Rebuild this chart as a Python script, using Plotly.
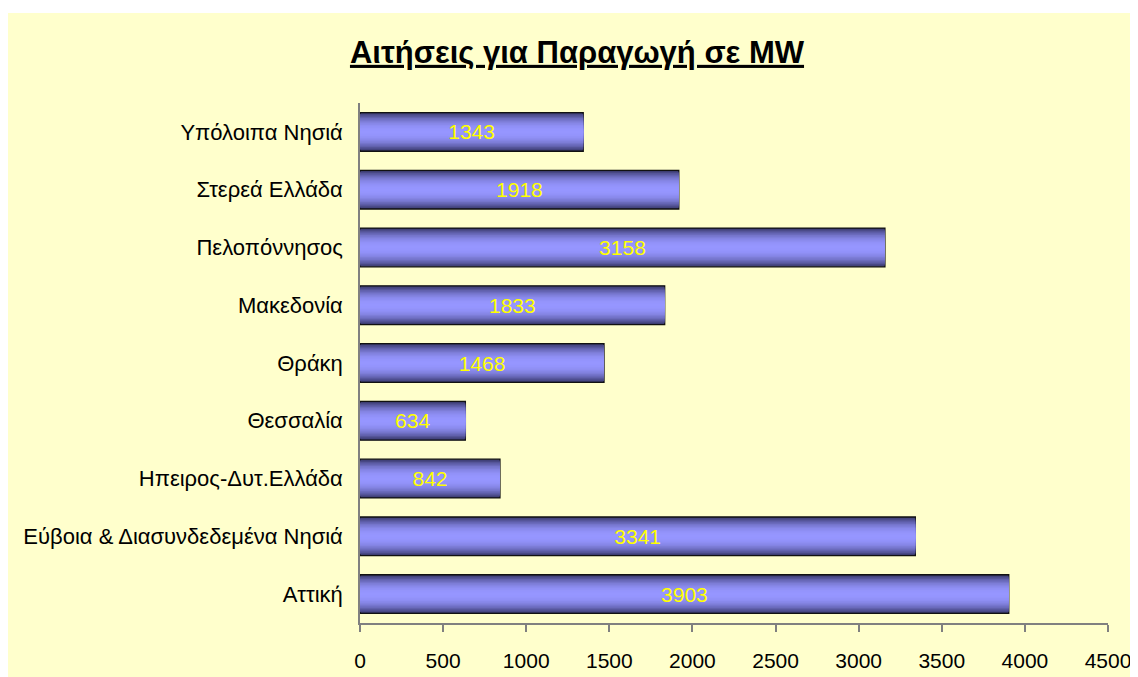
import plotly.graph_objects as go

# data (bottom to top, as drawn)
regions = ["Αττική",
           "Εύβοια & Διασυνδεδεμένα Νησιά",
           "Ηπειρος-Δυτ.Ελλάδα",
           "Θεσσαλία",
           "Θράκη",
           "Μακεδονία",
           "Πελοπόννησος",
           "Στερεά Ελλάδα",
           "Υπόλοιπα Νησιά"]
mw = [3903, 3341, 842, 634, 1468, 1833, 3158, 1918, 1343]

TITLE = "Αιτήσεις για Παραγωγή σε MW"
FONT = "Liberation Sans, Arial, sans-serif"
BAR_WIDTH = 0.67
LAYERS = 14
LIGHT = (150, 150, 255)
DARK = (50, 50, 98)

# the page body adds an 8px offset, so everything is placed 8px up/left
W, H = 1138, 677
L, R, T, B = 352, 38, 95, 62
PW, PH = W - L - R, H - T - B


def _shade(f):
    # f: 0 at bar centre, 1 at bar edge
    t = f ** 2.2
    return "rgb({},{},{})".format(*[round(l + (d - l) * t) for l, d in zip(LIGHT, DARK)])


fig = go.Figure()

# fake the vertical gradient with overlaid bars of shrinking width
for k in range(LAYERS):
    w = BAR_WIDTH * (1 - k / LAYERS)
    f_mid = 1 - (k + 0.5) / LAYERS
    fig.add_bar(y=regions, x=mw, orientation="h",
                width=w,
                marker={"color": _shade(f_mid),
                        "line": {"width": 1.3 if k == 0 else 0,
                                 "color": "#111111"}},
                hoverinfo="skip",
                showlegend=False)

# value labels on top
fig.add_bar(y=regions, x=mw, orientation="h",
            width=BAR_WIDTH,
            marker={"color": "rgba(0,0,0,0)", "line": {"width": 0}},
            text=[str(v) for v in mw],
            textposition="inside",
            insidetextanchor="middle",
            constraintext="none",
            textfont={"color": "#FFFF00", "size": 21, "family": FONT},
            showlegend=False)

fig.update_layout(
    width=W, height=H,
    barmode="overlay",
    paper_bgcolor="#FFFFCC",
    plot_bgcolor="rgba(0,0,0,0)",
    margin={"l": L, "r": R, "t": T, "b": B},
    font={"family": FONT, "size": 21, "color": "black"},
    title={"text": f"<b><u>{TITLE}</u></b>",
           "x": 569 / W, "xanchor": "center",
           "y": 1 - 44 / H, "yanchor": "middle",
           "font": {"size": 31, "family": FONT, "color": "black"}},
    xaxis={"range": [0, 4500], "dtick": 500, "showgrid": False,
           "zeroline": False, "showline": True, "linecolor": "#808080",
           "linewidth": 1.5, "ticks": "outside", "ticklen": 7,
           "tickcolor": "#808080", "tickwidth": 1.5,
           "ticklabelstandoff": 11,
           "tickfont": {"size": 21}},
    yaxis={"type": "category", "showgrid": False, "zeroline": False,
           "showline": True, "linecolor": "#808080", "linewidth": 1.5,
           "ticks": "", "ticklabelstandoff": 11,
           "tickfont": {"size": 22}},
    # white strip above the yellow chart area
    shapes=[{"type": "rect", "xref": "paper", "yref": "paper",
             "x0": -L / PW, "x1": (W - L) / PW,
             "y0": (H - 5 - B) / PH, "y1": (H - B) / PH,
             "fillcolor": "white", "line": {"width": 0},
             "layer": "below"}],
)

fig.write_html("out.html")
